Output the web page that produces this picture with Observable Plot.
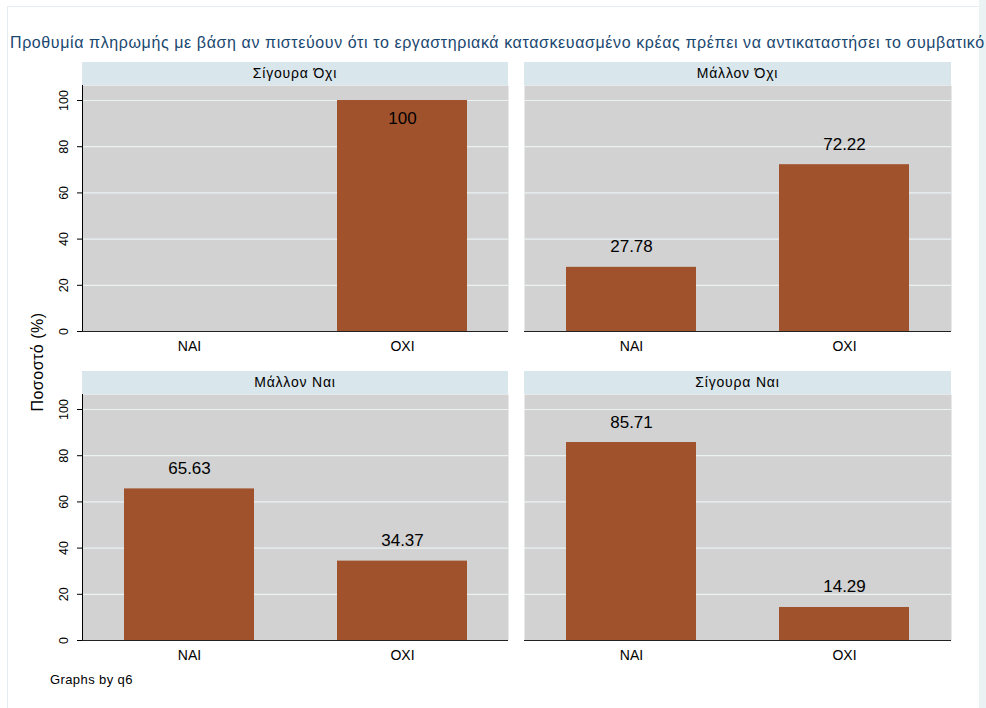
<!DOCTYPE html>
<html><head><meta charset="utf-8">
<script src="https://cdn.jsdelivr.net/npm/d3@7"></script>
<script src="https://cdn.jsdelivr.net/npm/@observablehq/plot@0.6"></script>
<style>
body{margin:0;background:#fff;font-family:"Liberation Sans",Arial,sans-serif;overflow:hidden}
#root{position:relative;width:986px;height:708px;overflow:hidden;background:#fff}
.abs{position:absolute}
.strip{position:absolute;background:#d9e6eb;color:#000;font-size:14px;letter-spacing:0.8px;text-align:center;height:23px;line-height:23px}
svg{overflow:visible}
</style></head><body><div id="root"></div><script>
// ---- data ----
const titleText = "Προθυμία πληρωμής με βάση αν πιστεύουν ότι το εργαστηριακά κατασκευασμένο κρέας πρέπει να αντικαταστήσει το συμβατικό";
const panelNames = ["Σίγουρα Όχι", "Μάλλον Όχι", "Μάλλον Ναι", "Σίγουρα Ναι"];
const answers = ["NAI", "OXI"];
const naiValues = [null, 27.78, 65.63, 85.71];
const oxiValues = [100, 72.22, 34.37, 14.29];
const yTicks = [0, 20, 40, 60, 80, 100];
const yTitle = "Ποσοστό (%)";
const note = "Graphs by q6";

// ---- layout ----
const root = document.getElementById("root");
const bgRight = document.createElement("div");
bgRight.className = "abs";
Object.assign(bgRight.style, {left: "979px", top: "0px", width: "7px", height: "708px", background: "#eaf2f3"});
root.appendChild(bgRight);
const frameBox = document.createElement("div");
frameBox.className = "abs";
Object.assign(frameBox.style, {left: "7px", top: "6px", width: "972px", height: "710px", borderLeft: "1px solid #e4eef0", borderTop: "1px solid #e4eef0", boxSizing: "border-box"});
root.appendChild(frameBox);

const title = document.createElement("div");
title.className = "abs";
title.textContent = titleText;
Object.assign(title.style, {left: "10px", top: "34px", fontSize: "16px", letterSpacing: "0.6px", color: "#1a476f", whiteSpace: "nowrap"});
root.appendChild(title);

const yt = document.createElement("div");
yt.className = "abs";
yt.textContent = yTitle;
Object.assign(yt.style, {left: "38px", top: "362px", fontSize: "16px", letterSpacing: "0.5px", whiteSpace: "nowrap", transform: "translate(-50%,-50%) rotate(-90deg)", color: "#000"});
root.appendChild(yt);

const nt = document.createElement("div");
nt.className = "abs";
nt.textContent = note;
Object.assign(nt.style, {left: "50px", top: "672px", fontSize: "13px", letterSpacing: "0.4px", whiteSpace: "nowrap", color: "#000"});
root.appendChild(nt);

const colX = [82, 524];
const colW = [426, 427];
const rowStrip = [62, 371];
const stripH = 23;
const plotH = 246;
const yMax = 106.5;

panelNames.forEach((name, i) => {
  const col = i % 2, row = Math.floor(i / 2);
  const left = col === 0;
  const data = answers.map((a, j) => ({answer: a, value: j === 0 ? naiValues[i] : oxiValues[i]})).filter(d => d.value != null);
  const strip = document.createElement("div");
  strip.className = "strip";
  Object.assign(strip.style, {left: colX[col] + "px", top: rowStrip[row] + "px", width: colW[col] + "px"});
  strip.textContent = name;
  root.appendChild(strip);

  const ml = left ? 40 : 0;
  const chart = Plot.plot({
    width: ml + colW[col],
    height: plotH + 30,
    marginLeft: ml, marginRight: 0, marginTop: 0, marginBottom: 30,
    style: {background: "transparent", fontFamily: "Liberation Sans, Arial, sans-serif", color: "#000", overflow: "visible"},
    x: {domain: answers, paddingInner: 0.39, paddingOuter: 0.195, axis: null},
    y: {domain: [0, yMax], axis: null},
    marks: [
      Plot.frame({fill: "#d2d2d2", stroke: null}),
      Plot.gridY(yTicks, {stroke: "#eaf2f3", strokeOpacity: 1, strokeWidth: 1.2}),
      Plot.barY(data, {x: "answer", y: "value", fill: "#a0522d"}),
      Plot.axisX({tickSize: 0, tickPadding: 10, fontSize: 14, fill: "#000", label: null, style: {letterSpacing: "1px"}}),
      left ? Plot.axisY(yTicks, {tickSize: 5, tickPadding: 10, tickRotate: -90, fontSize: 12.5, fill: "#000", stroke: "#000", label: null}) : null,
      left ? Plot.frame({anchor: "left", stroke: "#000", strokeWidth: 1}) : null,
      Plot.ruleY([0], {stroke: "#222", strokeWidth: 1.2}),
      Plot.text(data.filter(d => d.value < 95), {x: "answer", y: "value", text: d => String(d.value), lineAnchor: "bottom", dy: -15, fontSize: 17, fill: "#000"}),
      Plot.text(data.filter(d => d.value >= 95), {x: "answer", y: "value", text: d => String(d.value), lineAnchor: "bottom", dy: 23, fontSize: 17, fill: "#000"})
    ]
  });
  chart.style.position = "absolute";
  chart.style.left = (colX[col] - ml) + "px";
  chart.style.top = (rowStrip[row] + stripH) + "px";
  root.appendChild(chart);
});
</script></body></html>
